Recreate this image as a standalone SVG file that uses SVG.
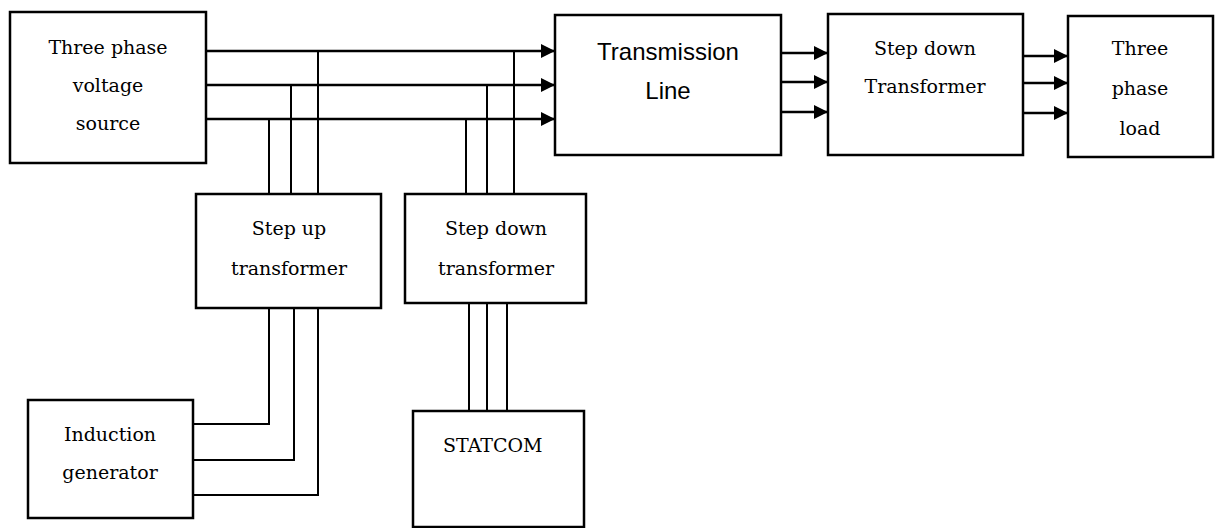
<svg xmlns="http://www.w3.org/2000/svg" width="1221" height="528" viewBox="0 0 1221 528">
<defs>
<style>
.box{fill:#fff;stroke:#000;stroke-width:2.5}
.w{fill:none;stroke:#000;stroke-width:2}
.m{fill:none;stroke:#000;stroke-width:2.6}
.t{font-family:"DejaVu Serif",serif;font-size:19px;fill:#000;text-anchor:middle}
.s{font-family:"Liberation Sans",Arial,sans-serif;font-size:24px;fill:#000;text-anchor:middle}
</style>
<marker id="ah" markerUnits="userSpaceOnUse" markerWidth="15" markerHeight="14" refX="14" refY="7" orient="auto">
<path d="M0,0 L14,7 L0,14 Z" fill="#000"/>
</marker>
</defs>
<rect width="1221" height="528" fill="#fff"/>
<g id="connectors">
<path class="m" d="M206,51 H555" marker-end="url(#ah)"/>
<path class="m" d="M206,85 H555" marker-end="url(#ah)"/>
<path class="m" d="M206,119 H555" marker-end="url(#ah)"/>
<path class="w" d="M269,119 V194 M291,85 V194 M318,51 V194"/>
<path class="w" d="M466,119 V194 M487,85 V194 M514,51 V194"/>
<path class="m" d="M781,53 H828" marker-end="url(#ah)"/>
<path class="m" d="M781,82 H828" marker-end="url(#ah)"/>
<path class="m" d="M781,112 H828" marker-end="url(#ah)"/>
<path class="m" d="M1023,56 H1068" marker-end="url(#ah)"/>
<path class="m" d="M1023,83 H1068" marker-end="url(#ah)"/>
<path class="m" d="M1023,113 H1068" marker-end="url(#ah)"/>
<path class="w" d="M269,308 V424 H193 M294,308 V460 H193 M318,308 V495 H193"/>
<path class="w" d="M469,303 V411 M487,303 V411 M507,303 V411"/>
</g>
<g id="source">
<rect class="box" x="10" y="12" width="196" height="151"/>
<text class="t" x="108" y="54">Three phase</text>
<text class="t" x="108" y="92">voltage</text>
<text class="t" x="108" y="130">source</text>
</g>
<g id="transmission">
<rect class="box" x="555" y="15" width="226" height="140"/>
<text class="s" x="668" y="60">Transmission</text>
<text class="s" x="668" y="99">Line</text>
</g>
<g id="stepdown-main">
<rect class="box" x="828" y="14" width="195" height="141"/>
<text class="t" x="925" y="55">Step down</text>
<text class="t" x="925" y="93">Transformer</text>
</g>
<g id="load">
<rect class="box" x="1068" y="16" width="145" height="141"/>
<text class="t" x="1140" y="55">Three</text>
<text class="t" x="1140" y="95">phase</text>
<text class="t" x="1140" y="135">load</text>
</g>
<g id="stepup">
<rect class="box" x="196" y="194" width="185" height="114"/>
<text class="t" x="289" y="235">Step up</text>
<text class="t" x="289" y="275">transformer</text>
</g>
<g id="stepdown-statcom">
<rect class="box" x="405" y="194" width="181" height="109"/>
<text class="t" x="496" y="235">Step down</text>
<text class="t" x="496" y="275">transformer</text>
</g>
<g id="induction">
<rect class="box" x="28" y="400" width="165" height="118"/>
<text class="t" x="110" y="441">Induction</text>
<text class="t" x="110" y="479">generator</text>
</g>
<g id="statcom">
<rect class="box" x="413" y="411" width="171" height="116"/>
<text class="t" x="443" y="452" style="text-anchor:start">STATCOM</text>
</g>
</svg>
